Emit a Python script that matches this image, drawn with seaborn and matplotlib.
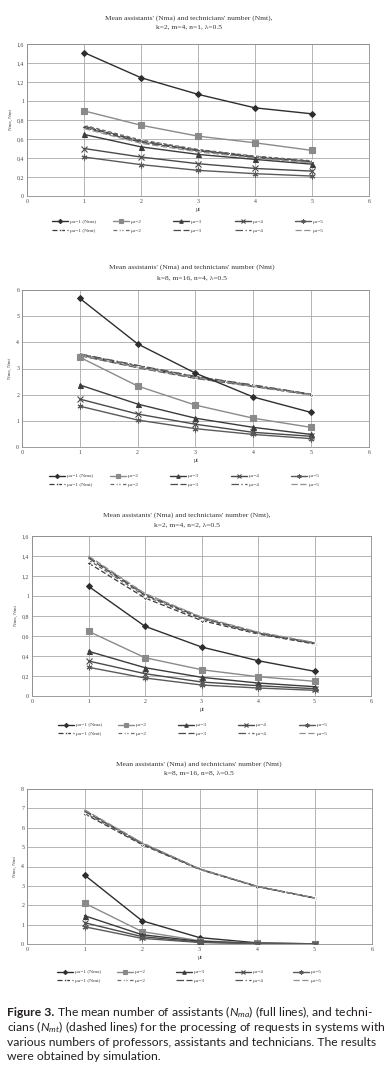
"""Figure 3: mean number of assistants (Nma) and technicians (Nmt) vs mu_t."""

import matplotlib

matplotlib.use("Agg")
import matplotlib.pyplot as plt
import seaborn as sns
from matplotlib.ticker import FuncFormatter, MultipleLocator

sns.set_theme(style="whitegrid")
plt.rcParams["font.family"] = ["Liberation Serif", "DejaVu Serif"]
plt.rcParams["mathtext.fontset"] = "custom"
plt.rcParams["mathtext.it"] = "Lato:italic"
plt.rcParams["mathtext.rm"] = "Lato"

W, H = 387, 1071

# ---- data ---------------------------------------------------------------
MU_T = [1, 2, 3, 4, 5]
MU_A = [1, 2, 3, 4, 5]

P1_TITLE = ["Mean assistants' (Nma) and technicians' number (Nmt),", "k=2, m=4, n=1, λ=0.5"]
P1_NMA = [
    [1.51, 1.245, 1.07, 0.928, 0.865],
    [0.896, 0.745, 0.63, 0.56, 0.48],
    [0.648, 0.517, 0.438, 0.385, 0.335],
    [0.50, 0.41, 0.34, 0.29, 0.262],
    [0.41, 0.33, 0.27, 0.235, 0.21],
]
P1_NMT = [
    [0.73, 0.575, 0.48, 0.41, 0.36],
    [0.745, 0.59, 0.49, 0.42, 0.37],
    [0.72, 0.565, 0.475, 0.405, 0.355],
    [0.735, 0.58, 0.485, 0.415, 0.365],
    [0.71, 0.555, 0.465, 0.40, 0.35],
]

P2_TITLE = ["Mean assistants' (Nma) and technicians' number (Nmt)", "k=8, m=16, n=4, λ=0.5"]
P2_NMA = [
    [5.68, 3.94, 2.82, 1.91, 1.32],
    [3.43, 2.33, 1.60, 1.10, 0.75],
    [2.37, 1.64, 1.10, 0.75, 0.48],
    [1.83, 1.26, 0.87, 0.56, 0.41],
    [1.56, 1.03, 0.70, 0.48, 0.32],
]
P2_NMT = [
    [3.52, 3.08, 2.66, 2.33, 2.00],
    [3.55, 3.11, 2.69, 2.36, 2.02],
    [3.49, 3.03, 2.62, 2.31, 1.99],
    [3.56, 3.12, 2.70, 2.37, 2.02],
    [3.50, 3.05, 2.64, 2.32, 1.99],
]

P3_TITLE = ["Mean assistants' (Nma) and technicians' number (Nmt),", "k=2, m=4, n=2, λ=0.5"]
P3_NMA = [
    [1.097, 0.697, 0.49, 0.353, 0.247],
    [0.647, 0.383, 0.263, 0.193, 0.147],
    [0.447, 0.283, 0.187, 0.13, 0.093],
    [0.35, 0.223, 0.14, 0.103, 0.073],
    [0.287, 0.18, 0.11, 0.08, 0.057],
]
P3_NMT = [
    [1.33, 0.98, 0.755, 0.62, 0.52],
    [1.36, 1.00, 0.77, 0.625, 0.525],
    [1.38, 1.01, 0.78, 0.63, 0.53],
    [1.39, 1.02, 0.785, 0.635, 0.53],
    [1.40, 1.025, 0.79, 0.64, 0.535],
]

P4_TITLE = ["Mean assistants' (Nma) and technicians' number (Nmt)", "k=8, m=16, n=8, λ=0.5"]
P4_NMA = [
    [3.56, 1.20, 0.33, 0.06, 0.01],
    [2.11, 0.64, 0.17, 0.04, 0.01],
    [1.46, 0.48, 0.14, 0.03, 0.01],
    [1.10, 0.38, 0.10, 0.02, 0.01],
    [0.89, 0.29, 0.08, 0.02, 0.0],
]
P4_NMT = [
    [6.72, 5.13, 3.85, 2.96, 2.37],
    [6.78, 5.16, 3.86, 2.97, 2.37],
    [6.85, 5.19, 3.87, 2.97, 2.38],
    [6.90, 5.21, 3.88, 2.98, 2.38],
    [6.93, 5.23, 3.88, 2.98, 2.38],
]

NMA_LABELS = ["μa=1 (Nma)", "μa=2", "μa=3", "μa=4", "μa=5"]
NMT_LABELS = ["μa=1 (Nmt)", "μa=2", "μa=3", "μa=4", "μa=5"]

CAPTION_LINES = [
    " The mean number of assistants ($N_{ma}$) (full lines), and techni-",
    "cians ($N_{mt}$) (dashed lines) for the processing of requests in systems with",
    "various numbers of professors, assistants and technicians. The results",
    "were obtained by simulation.",
]

# ---- styles --------------------------------------------------------------
NMA_COLORS = ["#2e2e2e", "#8a8a8a", "#3c3c3c", "#4a4a4a", "#5a5a5a"]
NMA_MARKERS = ["D", "s", "^", "x", (6, 2, 0)]
NMA_MSIZE = [3.0, 4.2, 3.6, 4.0, 4.2]
NMT_COLORS = ["#3a3a3a", "#6a6a6a", "#4a4a4a", "#555555", "#909090"]
NMT_DASHES = [(4, 2), (3, 2), (6, 2), (6, 2, 1, 2), (5, 2)]
NMT_MARKERS = ["D", "+", None, None, None]

# pixel boxes (left, top, right, bottom) of the four axes
PANELS = [
    dict(box=(27, 44, 369, 196), ymax=1.6, ystep=0.2, title=P1_TITLE, title_y=(18, 27),
         title_x=189, nma=P1_NMA, nmt=P1_NMT, leg_x=(52, 113, 173, 235, 295), leg_y=226),
    dict(box=(22, 290, 369, 447), ymax=6, ystep=1, title=P2_TITLE, title_y=(267, 278),
         title_x=192, nma=P2_NMA, nmt=P2_NMT, leg_x=(49, 110, 170, 231, 291), leg_y=480.5),
    dict(box=(32, 536, 371, 696), ymax=1.6, ystep=0.2, title=P3_TITLE, title_y=(515, 525),
         title_x=187, nma=P3_NMA, nmt=P3_NMT, leg_x=(58, 118, 178, 238, 299), leg_y=729.5),
    dict(box=(27, 789, 372, 944), ymax=8, ystep=1, title=P4_TITLE, title_y=(764, 773),
         title_x=199, nma=P4_NMA, nmt=P4_NMT, leg_x=(57, 117, 176, 235, 293), leg_y=976.5),
]


def comma_fmt(v, _pos):
    return f"{v:g}".replace(".", ",")


def draw_panel(fig, p):
    left, top, right, bottom = p["box"]
    ax = fig.add_axes([left / W, 1 - bottom / H, (right - left) / W, (bottom - top) / H])

    nma_handles, nmt_handles = [], []
    for i in range(len(MU_A)):
        sns.lineplot(x=MU_T, y=p["nmt"][i], ax=ax, color=NMT_COLORS[i], linewidth=0.9,
                     marker=NMT_MARKERS[i], markersize=2.2, markeredgewidth=0.6,
                     legend=False, zorder=3)
        line = ax.lines[-1]
        line.set_dashes(NMT_DASHES[i])
        nmt_handles.append(line)
    for i in range(len(MU_A)):
        sns.lineplot(x=MU_T, y=p["nma"][i], ax=ax, color=NMA_COLORS[i], linewidth=1.0,
                     marker=NMA_MARKERS[i], markersize=NMA_MSIZE[i],
                     markeredgecolor=NMA_COLORS[i], markeredgewidth=0.8,
                     legend=False, zorder=4)
        nma_handles.append(ax.lines[-1])

    ax.set_xlim(0, 6)
    ax.set_ylim(0, p["ymax"])
    ax.xaxis.set_major_locator(MultipleLocator(1))
    ax.yaxis.set_major_locator(MultipleLocator(p["ystep"]))
    ax.yaxis.set_major_formatter(FuncFormatter(comma_fmt))
    ax.set_facecolor("white")
    ax.grid(True, color="#a8a8a8", linewidth=0.6)
    for s in ax.spines.values():
        s.set_color("#8c8c8c")
        s.set_linewidth(0.6)
    ax.tick_params(axis="both", labelsize=4.2, pad=2, length=0, colors="#444444")
    ax.set_xlabel("μt", fontsize=4.2, labelpad=2, color="#444444")
    ax.set_ylabel("Nma, Nmt", fontsize=3.6, labelpad=3, color="#444444")

    fig.text(p["title_x"] / W, 1 - p["title_y"][0] / H, p["title"][0], ha="center",
             va="center", fontsize=5.4, color="#333333")
    fig.text(p["title_x"] / W, 1 - p["title_y"][1] / H, p["title"][1], ha="center",
             va="center", fontsize=5.4, color="#333333")

    for j in range(len(MU_A)):
        fig.legend(handles=[nma_handles[j], nmt_handles[j]],
                   labels=[NMA_LABELS[j], NMT_LABELS[j]],
                   loc="center left", bbox_to_anchor=(p["leg_x"][j] / W, 1 - p["leg_y"] / H),
                   frameon=False, fontsize=3.9, handlelength=3.0, handletextpad=0.3,
                   labelspacing=0.75, borderpad=0, borderaxespad=0, markerscale=0.7,
                   labelcolor="#444444")


fig = plt.figure(figsize=(W / 100, H / 100), dpi=100)
fig.patch.set_facecolor("white")

for panel in PANELS:
    draw_panel(fig, panel)

# caption, "Figure 3." in bold, followed by regular text
cap_font = dict(family=["Lato", "DejaVu Sans"], fontsize=8.7, color="#231f20", va="center")
cap_x = 7 / W
cap_y = [1012, 1027, 1042, 1056]
head = fig.text(cap_x, 1 - cap_y[0] / H, "Figure 3.", fontweight="bold", **cap_font)
renderer = fig.canvas.get_renderer()
bb = head.get_window_extent(renderer=renderer)
fig.text(bb.x1 / W, 1 - cap_y[0] / H, CAPTION_LINES[0], **cap_font)
for k in range(1, 4):
    fig.text(cap_x, 1 - cap_y[k] / H, CAPTION_LINES[k], **cap_font)

fig.savefig("out.png", dpi=100)
